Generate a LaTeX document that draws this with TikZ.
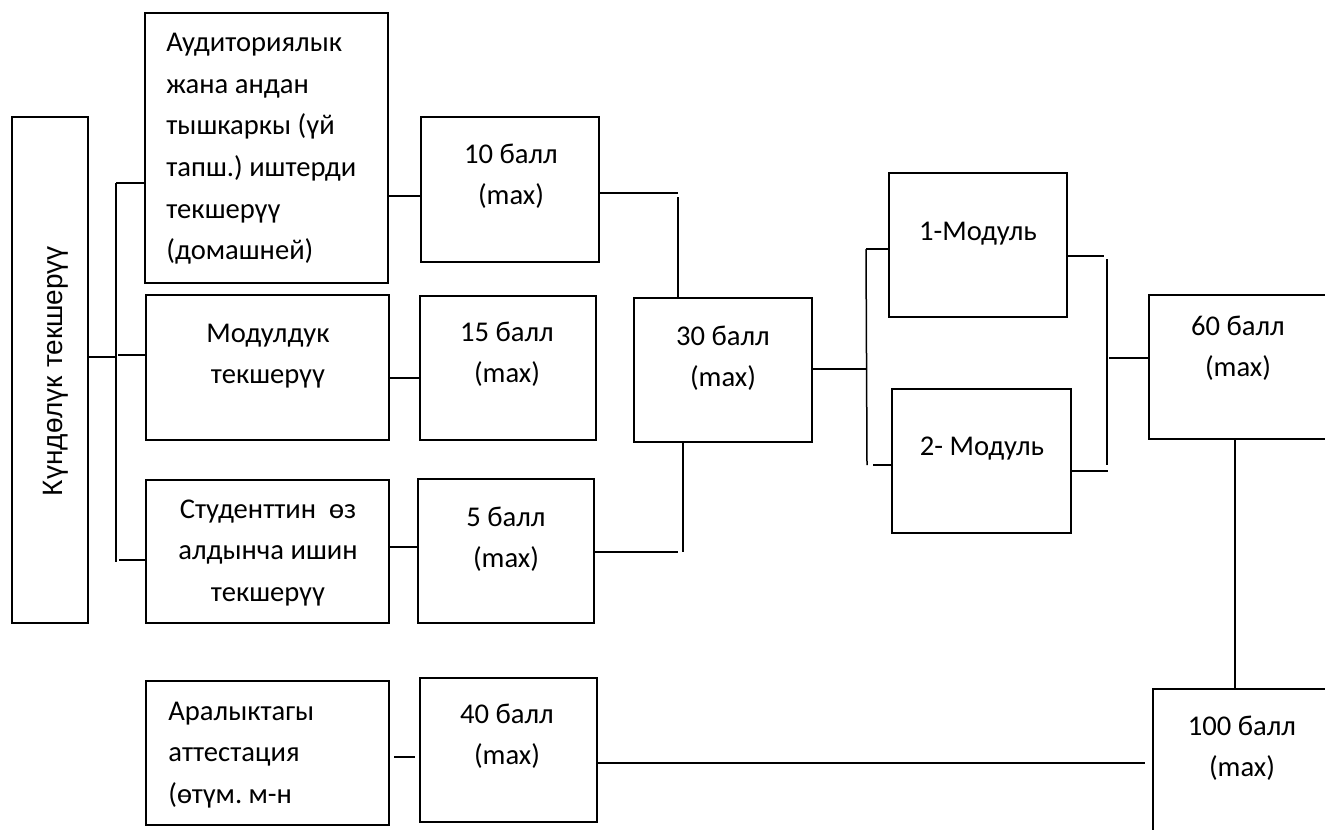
\documentclass[tikz,border=0pt]{standalone}
\usepackage{fontspec}
\setmainfont{Carlito}
\newfontfamily\arialfont{Liberation Sans}
\usetikzlibrary{fit}
\frenchspacing
\newcommand\ctx[1]{\begin{tabular}[t]{@{}c@{}}#1\end{tabular}}
\newcommand\ltx[1]{\begin{tabular}[t]{@{}l@{}}#1\end{tabular}}
\begin{document}
\begin{tikzpicture}[x=0.5pt,y=-0.5pt,
  box/.style={draw, line width=1pt, inner sep=0pt},
  con/.style={line width=0.75pt},
  txt/.style={inner sep=0pt, font=\frenchspacing\fontsize{14.3pt}{20.75pt}\selectfont}]
\useasboundingbox (0,0) rectangle (1325,829);
\clip (0,0) rectangle (1325,829);
% boxes
\node[box, fit={(12,117)(88,623)}] (K) {};
\node[box, fit={(145,13)(388,283)}] (A) {};
\node[box, fit={(146,295)(389,440)}] (M) {};
\node[box, fit={(146,480)(389,623)}] (S) {};
\node[box, fit={(421,117)(599,262)}] (B10) {};
\node[box, fit={(420,296)(596,440)}] (B15) {};
\node[box, fit={(418,479)(594,623)}] (B5) {};
\node[box, fit={(634,298)(812,442)}] (B30) {};
\node[box, fit={(889,173)(1067,317)}] (M1) {};
\node[box, fit={(892,389)(1071,533)}] (M2) {};
\node[box, fit={(1149,295)(1345,439)}] (B60) {};
\node[box, fit={(1153,689)(1345,850)}] (B100) {};
\node[box, fit={(146,681)(389,825)}] (AR) {};
\node[box, fit={(420,678)(597,822)}] (B40) {};
% texts
\node[txt, font=\arialfont\fontsize{14pt}{17pt}\selectfont, rotate=90, anchor=base] (tK) at (62,371) {Күндөлүк текшерүү};
\node[txt, anchor=base west] (tA) at (166,52) {\ltx{Аудиториялык\\жана андан\\тышкаркы (үй\\тапш.) иштерди\\текшерүү\\(домашней)}};
\node[txt, anchor=base] (tM) at (268,342) {\ctx{Модулдук\\текшерүү}};
\node[txt, anchor=base] (tS) at (268,518) {\ctx{Студенттин\ \ өз\\алдынча ишин\\текшерүү}};
\node[txt, anchor=base] (t10) at (511,163) {\ctx{10 балл\\(max)}};
\node[txt, anchor=base] (t15) at (507,341) {\ctx{15 балл\\(max)}};
\node[txt, anchor=base] (t5) at (506,526) {\ctx{5 балл\\(max)}};
\node[txt, anchor=base] (t30) at (723,345) {\ctx{30 балл\\(max)}};
\node[txt, anchor=base] (t1M) at (978,240) {1-Модуль};
\node[txt, anchor=base] (t2M) at (982,455) {2- Модуль};
\node[txt, anchor=base] (t60) at (1238,335) {\ctx{60 балл\\(max)}};
\node[txt, anchor=base] (t100) at (1242,735) {\ctx{100 балл\\(max)}};
\node[txt, anchor=base west] (tAR) at (168,720) {\ltx{Аралыктагы\\аттестация\\(өтүм. м-н}};
\node[txt, anchor=base] (t40) at (507,723) {\ctx{40 балл\\(max)}};
% junction coordinates
\coordinate (kj) at (116,357);
\coordinate (kt) at (116,183);
\coordinate (kb) at (116,562);
\coordinate (km) at (118,355);
\coordinate (ks) at (119,560);
\coordinate (yA) at (0,196);
\coordinate (yM) at (0,378);
\coordinate (yS) at (0,547);
\coordinate (c10a) at (678,193);
\coordinate (c10b) at (678,197);
\coordinate (c5a) at (683,552);
\coordinate (c5b) at (678,552);
\coordinate (c30) at (866,369);
\coordinate (mt) at (866,249);
\coordinate (mb) at (867,465);
\coordinate (m2l) at (873,465);
\coordinate (r1) at (1104,256);
\coordinate (rt) at (1107,259);
\coordinate (rb) at (1107,465);
\coordinate (r2) at (1108,471);
\coordinate (r6) at (1109,358);
\coordinate (v60) at (1235,0);
\coordinate (y40) at (0,763);
\coordinate (yAR) at (0,757);
% connectors
\draw[con] (K.east |- kj) -- (kj);
\draw[con] (kt) -- (kb);
\draw[con] (kt) -- (A.west |- kt);
\draw[con] (km) -- (M.west |- km);
\draw[con] (ks) -- (S.west |- ks);
\draw[con] (A.east |- yA) -- (B10.west |- yA);
\draw[con] (M.east |- yM) -- (B15.west |- yM);
\draw[con] (S.east |- yS) -- (B5.west |- yS);
\draw[con] (B10.east |- c10a) -- (c10a);
\draw[con] (c10b) -- (c10b |- B30.north);
\draw[con] (B30.south -| c5a) -- (c5a);
\draw[con] (B5.east |- c5b) -- (c5b);
\draw[con] (B30.east |- c30) -- (c30);
\draw[con] (mt) -- (mb);
\draw[con] (mt) -- (M1.west |- mt);
\draw[con] (m2l) -- (M2.west |- m2l);
\draw[con] (M1.east |- r1) -- (r1);
\draw[con] (rt) -- (rb);
\draw[con] (M2.east |- r2) -- (r2);
\draw[con] (r6) -- (B60.west |- r6);
\draw[con] (B60.south -| v60) -- (B100.north -| v60);
\draw[con, shorten >=3.5pt] (B40.east |- y40) -- (B100.west |- y40);
\draw[con, shorten <=2pt, shorten >=2pt] (AR.east |- yAR) -- (B40.west |- yAR);
\end{tikzpicture}
\end{document}
